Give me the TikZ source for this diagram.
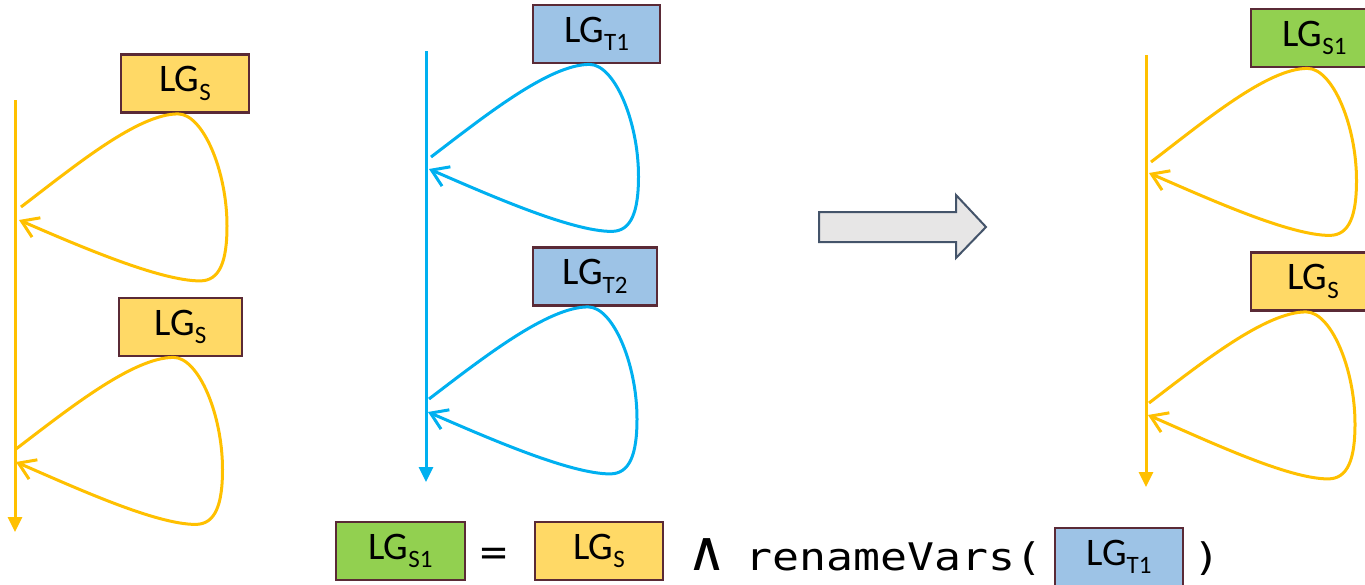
\documentclass[tikz,border=0pt]{standalone}
\usepackage{fontspec}
\setmainfont{Carlito}
\newfontfamily\codefont[FakeStretch=1.18]{DejaVu Sans Mono}
\usetikzlibrary{arrows.meta}

\definecolor{gold}{HTML}{FFC000}
\definecolor{sky}{HTML}{00B0F0}
\definecolor{fillY}{HTML}{FFD966}
\definecolor{fillB}{HTML}{9DC3E6}
\definecolor{fillG}{HTML}{92D050}
\definecolor{boxedge}{HTML}{5A2A36}
\definecolor{shaftfill}{HTML}{E7E6E6}
\definecolor{shaftedge}{HTML}{44546A}

% label with a lowered, smaller index
\newcommand\lgsub[1]{LG\raisebox{-8.5pt}{\fontsize{25}{25}\selectfont #1}}

% feedback loop: leaves the timeline at #1, passes under box #2, returns to #3
\newcommand\feedback[4]{%
  \draw[loopline,#4] (#1)
    .. controls +(55,-42) and +(-40,0) .. ([xshift=-7pt]#2.south)
    .. controls +(25,0) and +(0,-55) .. ([shift={(42,112)}]#2.south)
    .. controls +(0,35) and +(20,0) .. ([shift={(15,167)}]#2.south)
    .. controls +(-40,0) and +(60,26) .. (#3);}

\begin{document}
\begin{tikzpicture}[x=1pt,y=-1pt,
  lgbox/.style={draw=boxedge, line width=2.8pt, inner sep=0pt,
    minimum width=127pt, minimum height=58pt,
    font=\fontsize{39}{39}\selectfont},
  timeline/.style={line width=3pt, -{Triangle[length=15pt,width=14pt]}},
  loopline/.style={line width=3pt, -{Straight Barb[length=16pt,width=21pt]}},
  codetext/.style={inner sep=0pt, font=\codefont\fontsize{38}{38}\selectfont}]
\useasboundingbox (0,0) rectangle (1365,584);

% ---- source timeline ----
\coordinate (s0) at (15,100);
\coordinate (s9) at (15,532);
\draw[timeline, gold] (s0) -- (s9);
\node[lgbox, fill=fillY, minimum width=128pt] (sbox1) at (185,83.5) {\lgsub{S}};
\node[lgbox, fill=fillY, minimum width=123pt] (sbox2) at (180.5,327) {\lgsub{S}};
\coordinate (s1a) at (21,207);  \coordinate (s1e) at (19,220);
\coordinate (s2a) at (16,449);  \coordinate (s2e) at (16,462);
\feedback{s1a}{sbox1}{s1e}{gold}
\feedback{s2a}{sbox2}{s2e}{gold}

% ---- target timeline ----
\coordinate (t0) at (426,51);
\coordinate (t9) at (426,482);
\draw[timeline, sky] (t0) -- (t9);
\node[lgbox, fill=fillB] (tbox1) at (596.5,34) {\lgsub{T1}};
\node[lgbox, fill=fillB, minimum width=124pt] (tbox2) at (595,276.5) {\lgsub{T2}};
\coordinate (t1a) at (431,157);  \coordinate (t1e) at (429,169);
\coordinate (t2a) at (429,399);  \coordinate (t2e) at (428,412);
\feedback{t1a}{tbox1}{t1e}{sky}
\feedback{t2a}{tbox2}{t2e}{sky}

% ---- transformation arrow ----
\draw[fill=shaftfill, draw=shaftedge, line width=2pt, line join=miter]
  (819,212) -- (956,212) -- (956,195) -- (986,227) -- (956,258)
  -- (956,242) -- (819,242) -- cycle;

% ---- result timeline ----
\coordinate (r0) at (1146,55);
\coordinate (r9) at (1146,487);
\draw[timeline, gold] (r0) -- (r9);
\node[lgbox, fill=fillG] (rbox1) at (1314.5,38) {\lgsub{S1}};
\node[lgbox, fill=fillY, minimum width=124pt] (rbox2) at (1313,281.5) {\lgsub{S}};
\coordinate (r1a) at (1151,162);  \coordinate (r1e) at (1149,173);
\coordinate (r2a) at (1149,403);  \coordinate (r2e) at (1148,415);
\feedback{r1a}{rbox1}{r1e}{gold}
\feedback{r2a}{rbox2}{r2e}{gold}

% ---- definition ----
\node[lgbox, fill=fillG, minimum width=129pt] (dG) at (400.5,551) {\lgsub{S1}};
\node[codetext] (deq) at (494,557) {=};
\node[lgbox, fill=fillY, minimum width=128pt] (dY) at (599,551) {\lgsub{S}};
\node[codetext, anchor=base] (dand) at (707,570) {\scalebox{1.3}[1.45]{∧}};
\node[codetext, anchor=base west] (dfun) at (745,570) {renameVars(};
\node[lgbox, fill=fillB, minimum width=128pt] (dB) at (1119,557) {\lgsub{T1}};
\node[codetext, anchor=base] (dclose) at (1207,570) {)};
\end{tikzpicture}
\end{document}
